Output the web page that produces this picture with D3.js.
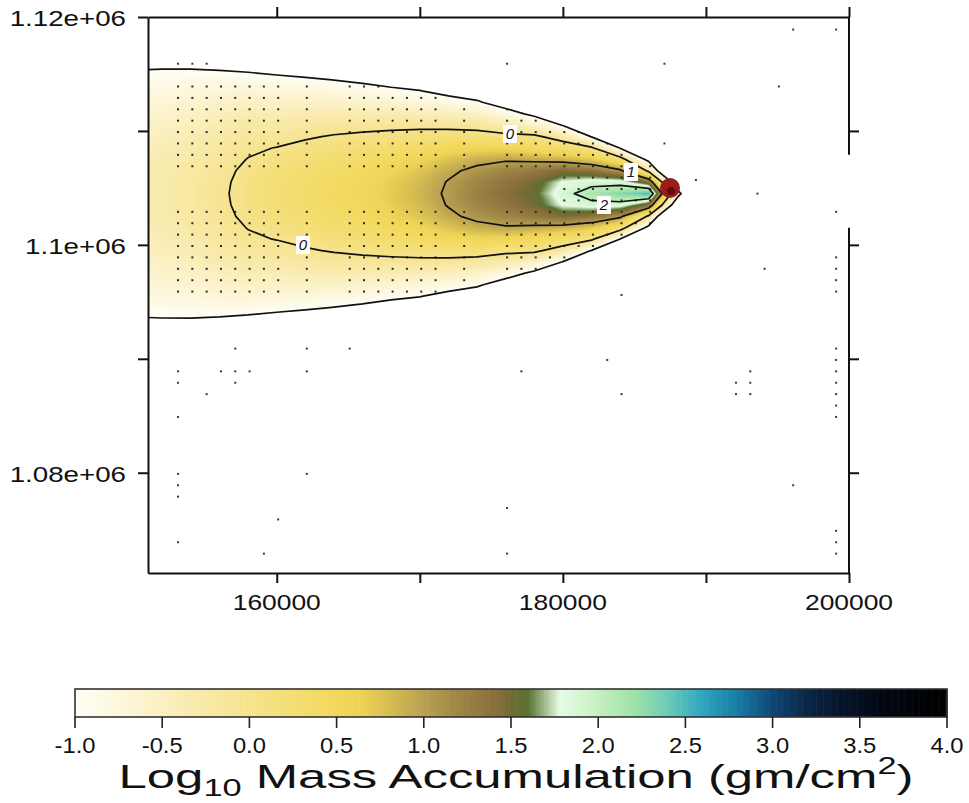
<!DOCTYPE html>
<html><head><meta charset="utf-8">
<script src="https://cdn.jsdelivr.net/npm/d3@7"></script>
<style>
html,body{margin:0;padding:0;background:#fff;}
svg{display:block;font-family:"Liberation Sans",Arial,Helvetica,sans-serif;}
</style></head><body>
<svg id="chart" width="969" height="803"></svg>
<script>
// ---------------- DATA ----------------
// Gridded log10 mass accumulation (gm/cm^2); columns every 2000 m from x=150000,
// rows every 1000 m from y=1092500 (row index 12 = plume axis y=1104500). -3 = no deposit.
const gridX0 = 150000, gridDx = 2000;
const gridY0 = 1092500, gridDy = 1000;
const row0  = [-0.35,-0.30,-0.20,-0.05,0.10,0.25,0.35,0.45,0.55,0.70,0.85,1.05,1.25,1.40,1.55,1.90,2.15,2.30,2.50,-0.70,-3];
const row1  = [-0.36,-0.31,-0.21,-0.06,0.09,0.24,0.33,0.43,0.53,0.68,0.82,1.02,1.21,1.35,1.49,1.80,1.90,1.88,1.40,-1.60,-3];
const row2  = [-0.37,-0.32,-0.23,-0.08,0.06,0.19,0.29,0.38,0.47,0.61,0.74,0.93,1.09,1.21,1.31,1.45,1.35,1.09,-0.10,-3,-3];
const row3  = [-0.40,-0.35,-0.26,-0.12,0.01,0.12,0.21,0.30,0.38,0.49,0.60,0.76,0.89,0.96,0.92,0.86,0.72,0.28,-1.20,-3,-3];
const row4  = [-0.44,-0.39,-0.31,-0.18,-0.05,0.01,0.10,0.18,0.25,0.33,0.41,0.52,0.60,0.59,0.47,0.35,0.09,-1.02,-3,-3,-3];
const row5  = [-0.49,-0.45,-0.37,-0.25,-0.14,-0.12,-0.04,0.03,0.08,0.13,0.17,0.21,0.21,0.12,0.10,-0.25,-1.02,-3,-3,-3,-3];
const row6  = [-0.55,-0.51,-0.44,-0.34,-0.25,-0.24,-0.19,-0.15,-0.12,-0.11,-0.10,-0.12,-0.17,-0.32,-0.55,-1.02,-3,-3,-3,-3,-3];
const row7  = [-0.62,-0.59,-0.53,-0.45,-0.37,-0.39,-0.36,-0.35,-0.35,-0.38,-0.42,-0.45,-0.55,-0.78,-1.12,-3,-3,-3,-3,-3,-3];
const row8  = [-0.70,-0.68,-0.63,-0.57,-0.52,-0.55,-0.54,-0.56,-0.59,-0.64,-0.72,-0.79,-0.93,-1.25,-3,-3,-3,-3,-3,-3,-3];
const row9  = [-0.79,-0.78,-0.75,-0.70,-0.68,-0.72,-0.74,-0.78,-0.83,-0.90,-0.98,-1.15,-1.30,-3,-3,-3,-3,-3,-3,-3,-3];
const row10 = [-0.90,-0.89,-0.87,-0.86,-0.87,-0.93,-0.95,-1.01,-1.08,-1.20,-1.30,-3,-3,-3,-3,-3,-3,-3,-3,-3,-3];
const row11 = [-1.02,-1.01,-1.01,-1.03,-1.07,-1.10,-1.20,-3,-3,-3,-3,-3,-3,-3,-3,-3,-3,-3,-3,-3,-3];
const row12 = [-3,-3,-3,-3,-3,-3,-3,-3,-3,-3,-3,-3,-3,-3,-3,-3,-3,-3,-3,-3,-3];
const massGrid = [row12,row11,row10,row9,row8,row7,row6,row5,row4,row3,row2,row1,row0,
                  row1,row2,row3,row4,row5,row6,row7,row8,row9,row10,row11,row12];

const contourLevels = [-1, 0, 1, 2];
const contourLabels = [
  {text:"0", x:176300, y:1109730},
  {text:"0", x:161830, y:1099990},
  {text:"1", x:184760, y:1106400},
  {text:"2", x:182870, y:1103500}
];
const vent = {x:187490, y:1104990};

// sample-point marks
const dotCols = [153100,154100,155100,156100,157100,158100,159100,160100,162100,165100,166100,167100,
                 168100,169100,170100,171100,173100,176100,177100,178100,179100,180100,181100,182100,
                 183100,184100,185100,186100];
const dotRows = [1113900,1112900,1111900,1110900,1109900,1108900,1107900,1106900,
                 1102900,1101900,1100900,1099900,1098900,1097900,1096900,1095900];
const coreDotCols = [180100,181100,182100,183100,184100,185100,186100];
const coreDotRows = [1105900,1104900,1103900];
const extraDots = [
  [153100,1115900],[154100,1115900],[155100,1115900],[176100,1115900],[187100,1115900],
  [196100,1118900],[199100,1118900],[195100,1113900],[187100,1108900],[189300,1105700],
  [193600,1104500],[199100,1102900],[199100,1098900],[199100,1097900],[199100,1096900],
  [199100,1095900],[194100,1097900],[184100,1095600],
  [157100,1090900],[162100,1090900],[165100,1090900],[183100,1089900],
  [153100,1088900],[156100,1088900],[157100,1088900],[158100,1088900],[162100,1088900],
  [177100,1088900],[193100,1088900],[153100,1087900],[157100,1087900],[192100,1087900],
  [193100,1087900],[155100,1086900],[184100,1086900],[192100,1086900],[193100,1086900],
  [153100,1084900],[199100,1090900],[199100,1089900],[199100,1088900],[199100,1087900],
  [199100,1086900],[199100,1085900],[199100,1084900],
  [153100,1079900],[153100,1078900],[153100,1077900],[162100,1079900],[196100,1078900],
  [176100,1076900],[160100,1075900],[153100,1073900],[159100,1072900],[176100,1072900],
  [199100,1074900],[199100,1073900],[199100,1072900]
];

// axes
const xDomain = [151000, 200000];
const yDomain = [1071200, 1120000];
const xTicks = [160000,170000,180000,190000,200000];
const xTickLabels = ["160000","","180000","","200000"];
const yTicks = [1080000,1090000,1100000,1110000,1120000];
const yTickLabels = ["1.08e+06","","1.1e+06","","1.12e+06"];
const rightAxisGap = [1101500, 1107900];

// colour bar
const colorStops = [-1,-0.75,-0.5,-0.25,0,0.25,0.5,0.65,0.8,1.0,1.2,1.4,1.5,1.6,1.68,1.78,1.9,2.0,2.2,2.4,2.6,2.8,3.0,3.2,3.4,3.6,4.0];
const colorHex   = ["#fffef6","#fdf7dc","#fbf0c2","#f8e9a6","#f6e38e","#f4de74","#f2d95c","#ecd256","#d6bd52",
                    "#b9a050","#9e8646","#8c6f3c","#6f6c34","#5a7232","#98b080","#e6fbe6","#d6f6d2","#c4f0c0",
                    "#a0e2a8","#6ccab8","#2ea6c0","#177ca4","#0f4676","#0a2646","#06142a","#030814","#000000"];
const cbTicks = [-1,-0.5,0,0.5,1,1.5,2,2.5,3,3.5,4];

// ---------------- DRAW ----------------
const svg = d3.select("#chart");
const x = d3.scaleLinear().domain(xDomain).range([148, 849]);
const y = d3.scaleLinear().domain(yDomain).range([573, 17]);
const color = d3.scaleLinear().domain(colorStops).range(colorHex).clamp(true);

const nx = massGrid[0].length, ny = massGrid.length;
const values = massGrid.flat();
const proj = d3.geoTransform({point(u, v) {
  this.stream.point(x(gridX0 + (u - 0.5) * gridDx), y(gridY0 + (v - 0.5) * gridDy));
}});
const path = d3.geoPath(proj);

const defs = svg.append("defs");
defs.append("clipPath").attr("id","plotClip").append("rect")
  .attr("x",148).attr("y",17).attr("width",701).attr("height",556);

const plot = svg.append("g").attr("clip-path","url(#plotClip)");

// colour bands
const bandT = d3.range(0, 200).map(i => +(-1 + i * 0.025).toFixed(3));
const bands = d3.contours().size([nx, ny]).thresholds(bandT)(values);
plot.append("g").selectAll("path").data(bands).join("path")
  .attr("d", path).attr("fill", d => color(d.value + 0.0125)).attr("stroke","none");

// contour lines
const lines = d3.contours().size([nx, ny]).thresholds(contourLevels)(values);
defs.append("clipPath").attr("id","plumeClip").append("path").attr("d", path(lines[0]));

// dots
const gridDots = [];
dotCols.forEach(c => dotRows.forEach(r => gridDots.push([c, r])));
coreDotCols.forEach(c => coreDotRows.forEach(r => gridDots.push([c, r])));
plot.append("g").attr("clip-path","url(#plumeClip)").selectAll("rect").data(gridDots).join("rect")
  .attr("x", d => x(d[0]) - 1).attr("y", d => y(d[1]) - 1).attr("width",2).attr("height",2).attr("fill","#2a2a2a");
plot.append("g").selectAll("rect").data(extraDots).join("rect")
  .attr("x", d => x(d[0]) - 1).attr("y", d => y(d[1]) - 1).attr("width",2).attr("height",2).attr("fill","#3a3a3a");

plot.append("g").selectAll("path").data(lines).join("path")
  .attr("d", path).attr("fill","none").attr("stroke","#111").attr("stroke-width",1.7)
  .attr("stroke-linejoin","round");

// vent
plot.append("ellipse").attr("cx", x(vent.x)).attr("cy", y(vent.y)).attr("rx", 10).attr("ry", 10)
  .attr("fill","#9c1b1b");
plot.append("ellipse").attr("cx", x(vent.x) + 1).attr("cy", y(vent.y) + 3).attr("rx", 4).attr("ry", 4)
  .attr("fill","#5e0c0c");

// contour labels
const lab = plot.append("g").selectAll("g").data(contourLabels).join("g")
  .attr("transform", d => `translate(${x(d.x)},${y(d.y)})`);
lab.append("rect").attr("x",-7).attr("y",-9).attr("width",14).attr("height",18).attr("fill","#fff");
lab.append("text").attr("text-anchor","middle").attr("dy","0.36em").attr("font-size",15)
  .attr("font-style","italic").attr("fill","#111").text(d => d.text);

// axes
const axisG = svg.append("g");
const styleAxis = g => { g.selectAll("path,line").attr("stroke","#111").attr("stroke-width",2); g.selectAll("text").remove(); };
axisG.append("g").attr("transform","translate(0,573)")
  .call(d3.axisBottom(x).tickValues(xTicks).tickSize(10).tickSizeOuter(0)).call(styleAxis);
axisG.append("g").attr("transform","translate(0,17)")
  .call(d3.axisTop(x).tickValues(xTicks).tickSize(10).tickSizeOuter(0)).call(styleAxis);
axisG.append("g").attr("transform","translate(148,0)")
  .call(d3.axisLeft(y).tickValues(yTicks).tickSize(10).tickSizeOuter(0)).call(styleAxis);
const rAx = axisG.append("g").attr("transform","translate(849,0)")
  .call(d3.axisRight(y).tickValues(yTicks.slice(0,4)).tickSize(10).tickSizeOuter(0)).call(styleAxis);
rAx.select(".domain").remove();
rAx.append("line").attr("x1",0).attr("x2",0).attr("y1",y(yDomain[1])).attr("y2",y(rightAxisGap[1]))
  .attr("stroke","#111").attr("stroke-width",2);
rAx.append("line").attr("x1",0).attr("x2",0).attr("y1",y(rightAxisGap[0])).attr("y2",y(yDomain[0]))
  .attr("stroke","#111").attr("stroke-width",2);

// tick labels
const fs = 22;
svg.append("g").selectAll("text").data(xTicks.map((d,i)=>({v:d,t:xTickLabels[i]})).filter(d=>d.t)).join("text")
  .attr("transform", d => `translate(${x(d.v)},610) scale(1.2,1)`)
  .attr("text-anchor","middle").attr("font-size",fs).attr("fill","#111").text(d => d.t);
svg.append("g").selectAll("text").data(yTicks.map((d,i)=>({v:d,t:yTickLabels[i]})).filter(d=>d.t)).join("text")
  .attr("transform", d => `translate(126,${y(d.v) + 9}) scale(1.26,1)`)
  .attr("text-anchor","end").attr("font-size",fs).attr("fill","#111").text(d => d.t);

// colour bar
const cb = d3.scaleLinear().domain([-1, 4]).range([75, 947]);
const cbG = svg.append("g");
const cbSteps = d3.range(0, 500).map(i => -1 + i * 0.01);
cbG.append("g").selectAll("rect").data(cbSteps).join("rect")
  .attr("x", d => cb(d)).attr("y", 689).attr("width", d => cb(d + 0.01) - cb(d) + 0.6).attr("height", 28)
  .attr("fill", d => color(d + 0.005));
cbG.append("rect").attr("x",75).attr("y",689).attr("width",872).attr("height",28)
  .attr("fill","none").attr("stroke","#333").attr("stroke-width",1.6);
cbG.append("g").selectAll("line").data(cbTicks).join("line")
  .attr("x1", d => cb(d)).attr("x2", d => cb(d)).attr("y1", 717).attr("y2", 728)
  .attr("stroke","#222").attr("stroke-width",1.6);
cbG.append("g").selectAll("text").data(cbTicks).join("text")
  .attr("transform", d => `translate(${cb(d)},753) scale(1.08,1)`)
  .attr("text-anchor","middle").attr("font-size",22).attr("fill","#111").text(d => d.toFixed(1));

const title = cbG.append("text").attr("text-anchor","middle").attr("font-size",34).attr("fill","#111");
title.append("tspan").text("Log");
title.append("tspan").attr("font-size",23).attr("dy",8).text("10");
title.append("tspan").attr("dy",-8).text(" Mass Accumulation (gm/cm");
title.append("tspan").attr("font-size",23).attr("dy",-14).text("2");
title.append("tspan").attr("dy",14).text(")");
const tw = title.node().getBBox().width;
title.attr("transform", `translate(516,788) scale(${795 / tw},1)`);
</script>
</body></html>
